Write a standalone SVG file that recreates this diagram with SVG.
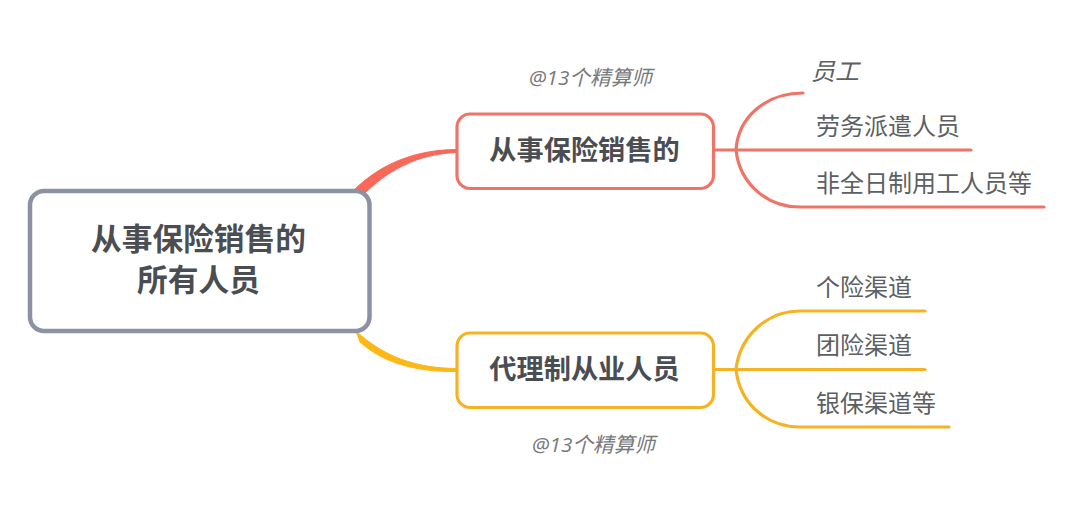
<svg xmlns="http://www.w3.org/2000/svg" width="1080" height="513" viewBox="0 0 1080 513">
<style>
text{font-family:"Noto Sans CJK SC","Noto Sans",sans-serif;fill:#55585c}
.b{font-weight:700;fill:#4a4d52}
.r{font-size:30.7px}
.m{font-size:27.2px}
.l{font-size:24px;fill:#5c5f63}
.i{font-style:italic}
.w{font-family:"Open Sans","Noto Sans CJK SC",sans-serif;font-size:20.7px;font-style:italic;fill:#77797c}
.c{fill:none;stroke-linecap:round}
.red{stroke:#ee7468;stroke-width:3.2}
.yel{stroke:#f4b324;stroke-width:3.2}
.box{fill:#fff;stroke-width:3.2}
</style>
<rect width="1080" height="513" fill="#fff"/>
<g id="connectors">
<path d="M353 191C381 163 416 150 456 149.500V152.500C418 154 388 170 363 195Z" fill="#f9695a" stroke="#f9695a" stroke-width="1"/>
<path d="M356 331C384 357 416 368 456 368.500V371.500C414 372 382 362 360 342Z" fill="#fcb814" stroke="#fcb814" stroke-width="1"/>
<path class="c red" d="M713 150H971"/>
<path class="c red" d="M736 150C738 118 765 93 803 93"/>
<path class="c red" d="M736 150C740 185 768 207 800 207H1044"/>
<path class="c yel" d="M713 369.500H925"/>
<path class="c yel" d="M736 369.500C740 335 768 311 800 311H925"/>
<path class="c yel" d="M736 369.500C740 405 768 427 800 427H949"/>
</g>
<g id="root">
<rect x="30" y="191" width="339.500" height="140" rx="14" fill="#fff" stroke="#8c92a3" stroke-width="4.500"/>
<text class="b r" x="198.500" y="250" text-anchor="middle">从事保险销售的</text>
<text class="b r" x="198.500" y="291" text-anchor="middle">所有人员</text>
</g>
<g id="branch-sales">
<rect class="box" x="457" y="114" width="256.500" height="74.500" rx="13" stroke="#ee7468"/>
<text class="b m" x="584.500" y="160" text-anchor="middle">从事保险销售的</text>
</g>
<g id="branch-agents">
<rect class="box" x="457" y="333" width="256.500" height="74.500" rx="13" stroke="#f4b324"/>
<text class="b m" x="584.500" y="379" text-anchor="middle">代理制从业人员</text>
</g>
<g id="leaf-employee"><text class="l i" x="811" y="80">员工</text></g>
<g id="leaf-dispatch"><text class="l" x="816" y="134.500">劳务派遣人员</text></g>
<g id="leaf-parttime"><text class="l" x="816" y="192">非全日制用工人员等</text></g>
<g id="leaf-individual"><text class="l" x="816" y="296">个险渠道</text></g>
<g id="leaf-group"><text class="l" x="816" y="354">团险渠道</text></g>
<g id="leaf-bank"><text class="l" x="816" y="412">银保渠道等</text></g>
<g id="watermark-top"><text class="w" x="529" y="85">@13个精算师</text></g>
<g id="watermark-bottom"><text class="w" x="532" y="452">@13个精算师</text></g>
</svg>
